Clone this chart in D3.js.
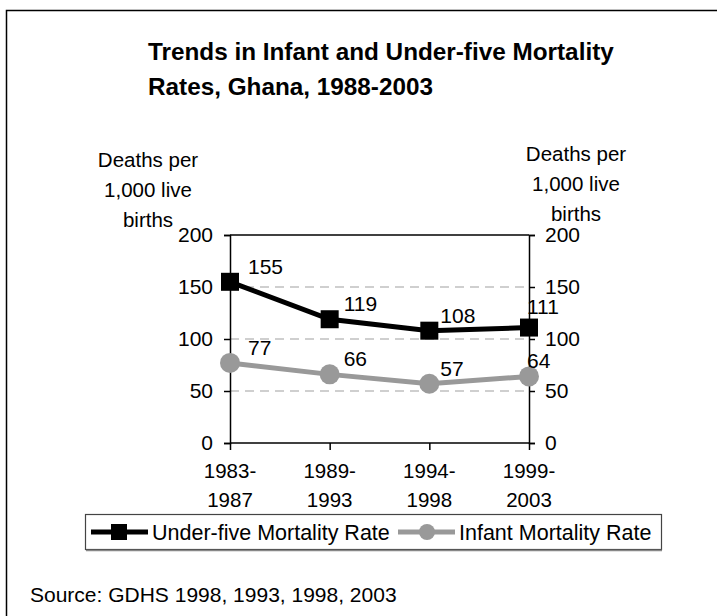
<!DOCTYPE html>
<meta charset="utf-8">
<style>
html,body {
  margin: 0px;
  padding: 0px;
  overflow: hidden;
  background-color: white;
}
text {
  font-family: Arial, "Liberation Sans", sans-serif;
  fill: black;
}
</style>
<body>
<svg></svg>
</body>
<script src="https://cdn.jsdelivr.net/npm/d3@7"></script>
<script>

var periods = ["1983-1987", "1989-1993", "1994-1998", "1999-2003"];
var underFive = [155, 119, 108, 111];
var infant = [77, 66, 57, 64];
var yTicks = [0, 50, 100, 150, 200];
var titleLines = ["Trends in Infant and Under-five Mortality", "Rates, Ghana, 1988-2003"];
var unitLines = ["Deaths per", "1,000 live", "births"];
var seriesNames = ["Under-five Mortality Rate", "Infant Mortality Rate"];
var sourceText = "Source: GDHS 1998, 1993, 1998, 2003";

var W = 717, H = 616;
var FS = 21;
var svg = d3.select("svg").attr("width", W).attr("height", H);

// outer frame, runs off the right and bottom edge
svg.append("rect")
  .attr("x", 6.5).attr("y", 10.5)
  .attr("width", 800).attr("height", 700)
  .attr("fill", "white").attr("stroke", "black").attr("stroke-width", 1.5);

// title
svg.append("g").selectAll("text").data(titleLines).join("text")
  .attr("x", 148)
  .attr("y", function(d, i) { return 60 + i * 35; })
  .attr("font-size", 24.3)
  .attr("font-weight", "bold")
  .text(function(d) { return d; });

// unit labels on both sides
[[148, 167], [576, 161]].forEach(function(p) {
  svg.append("g").selectAll("text").data(unitLines).join("text")
    .attr("x", p[0])
    .attr("y", function(d, i) { return p[1] + i * 30; })
    .attr("text-anchor", "middle")
    .attr("font-size", 20.5)
    .text(function(d) { return d; });
});

var x = d3.scalePoint().domain(periods).range([230, 529]).padding(0);
var y = d3.scaleLinear().domain([0, 200]).range([443, 235]);

// dashed gridlines
svg.append("g").selectAll("line").data([50, 100, 150]).join("line")
  .attr("x1", 230).attr("x2", 529)
  .attr("y1", function(d) { return y(d); })
  .attr("y2", function(d) { return y(d); })
  .attr("stroke", "#a0a0a0").attr("stroke-width", 1.2)
  .attr("stroke-dasharray", "9,6");

// top border of plot
svg.append("line")
  .attr("x1", 230).attr("x2", 529)
  .attr("y1", y(200)).attr("y2", y(200))
  .attr("stroke", "black").attr("stroke-width", 1.5);

var leftAxis = svg.append("g")
  .attr("transform", "translate(230,0)")
  .call(d3.axisLeft(y).tickValues(yTicks).tickSize(6).tickPadding(11));
var rightAxis = svg.append("g")
  .attr("transform", "translate(529,0)")
  .call(d3.axisRight(y).tickValues(yTicks).tickSize(6).tickPadding(10));
var bottomAxis = svg.append("g")
  .attr("transform", "translate(0,443)")
  .call(d3.axisBottom(x).tickSize(7).tickFormat(""));

[leftAxis, rightAxis, bottomAxis].forEach(function(a) {
  a.select(".domain").attr("stroke", "black").attr("stroke-width", 1.5);
  a.selectAll(".tick line").attr("stroke", "black").attr("stroke-width", 1.5);
  a.selectAll(".tick text").attr("font-size", FS).attr("font-family", "Arial, 'Liberation Sans', sans-serif").attr("fill", "black");
});
bottomAxis.select(".domain").attr("d", "M230,0H529");

// two-line category labels
svg.append("g").selectAll("text").data(periods).join("text")
  .attr("text-anchor", "middle")
  .attr("font-size", 20.5)
  .attr("x", function(d) { return x(d); })
  .attr("y", 478)
  .each(function(d) {
    var parts = d.split("-");
    d3.select(this).append("tspan").attr("x", x(d)).text(parts[0] + "-");
    d3.select(this).append("tspan").attr("x", x(d)).attr("dy", 29).text(parts[1]);
  });

var line = d3.line()
  .x(function(d, i) { return x(periods[i]); })
  .y(function(d) { return y(d); });

var labelDx = [18, 14, 11, -2];

function drawSeries(vals, color, shape, dyLast) {
  var g = svg.append("g");
  g.append("path").datum(vals)
    .attr("d", line)
    .attr("fill", "none").attr("stroke", color).attr("stroke-width", 5);
  if (shape === "square") {
    g.selectAll("rect").data(vals).join("rect")
      .attr("x", function(d, i) { return x(periods[i]) - 9; })
      .attr("y", function(d) { return y(d) - 9; })
      .attr("width", 18).attr("height", 18)
      .attr("fill", color);
  } else {
    g.selectAll("circle").data(vals).join("circle")
      .attr("cx", function(d, i) { return x(periods[i]); })
      .attr("cy", function(d) { return y(d); })
      .attr("r", 10)
      .attr("fill", color);
  }
  g.selectAll("text").data(vals).join("text")
    .attr("x", function(d, i) { return x(periods[i]) + labelDx[i]; })
    .attr("y", function(d, i) { return y(d) - (i === vals.length - 1 ? dyLast : 8); })
    .attr("font-size", FS)
    .text(function(d) { return d; });
}

drawSeries(infant, "#999999", "circle", 8);
drawSeries(underFive, "black", "square", 14);

// legend
var lg = svg.append("g");
lg.append("rect")
  .attr("x", 85.5).attr("y", 514.5)
  .attr("width", 576).attr("height", 35)
  .attr("fill", "white").attr("stroke", "#444").attr("stroke-width", 1.2);
lg.append("line")
  .attr("x1", 86).attr("x2", 662).attr("y1", 550.5).attr("y2", 550.5)
  .attr("stroke", "#888").attr("stroke-width", 1.5);

var legendItems = [
  { name: seriesNames[0], color: "black", shape: "square", x0: 91 },
  { name: seriesNames[1], color: "#999999", shape: "circle", x0: 398 }
];
legendItems.forEach(function(it) {
  var cy = 532;
  lg.append("line")
    .attr("x1", it.x0).attr("x2", it.x0 + 57)
    .attr("y1", cy).attr("y2", cy)
    .attr("stroke", it.color).attr("stroke-width", 5);
  if (it.shape === "square") {
    lg.append("rect").attr("x", it.x0 + 20).attr("y", cy - 8)
      .attr("width", 16).attr("height", 16).attr("fill", it.color);
  } else {
    lg.append("circle").attr("cx", it.x0 + 29).attr("cy", cy)
      .attr("r", 8).attr("fill", it.color);
  }
  lg.append("text")
    .attr("x", it.x0 + 61).attr("y", cy + 7.5)
    .attr("font-size", 21.5)
    .text(it.name);
});

// source note
svg.append("text")
  .attr("x", 30).attr("y", 602)
  .attr("font-size", FS)
  .text(sourceText);

</script>
